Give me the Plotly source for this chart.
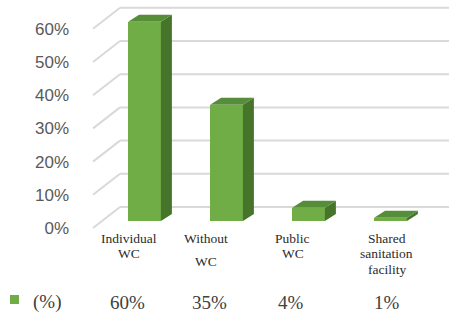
import plotly.graph_objects as go

# ---- data ----
categories = ["Individual<br>WC", "Without<br>WC", "Public<br>WC", "Shared<br>sanitation<br>facility"]
values = [60, 35, 4, 1]
value_labels = ["60%", "35%", "4%", "1%"]
series_name = "(%)"
y_ticks = [0, 10, 20, 30, 40, 50, 60]
y_tick_labels = ["0%", "10%", "20%", "30%", "40%", "50%", "60%"]

# ---- geometry (pixel layout of the figure) ----
W, H = 449, 314
L, T, B = 70, 0, 84
PW, PH = W - L, H - T - B
X0PX, XSTEP = 144.5, 82.0        # pixel of first category centre, pixels per category
Y0PX, YSTEP = 221.0, 3.32        # pixel of value 0 at bar front, pixels per unit

def px2x(px):
    return (px - X0PX) / XSTEP

def px2y(py):
    return (Y0PX - py) / YSTEP

def paper_x(px):
    return (px - L) / PW

def paper_y(py):
    return (T + PH - py) / PH

xr = [px2x(L), px2x(W)]
yr = [px2y(T + PH), px2y(T)]

# 3D offsets in data units
bar_w = 0.4
dx = 11 / XSTEP
dy = 7 / YSTEP
back_off = 14 / YSTEP     # back wall raised relative to bar front
front_off = -7 / YSTEP    # front of side wall lowered
wall_x_front = px2x(93)
wall_x_back = px2x(120)

FRONT = "#70ad47"
TOP = "#558d38"
SIDE = "#45742a"
GRID = "#d9d9d9"

fig = go.Figure()

xs = list(range(len(values)))
fig.add_trace(go.Bar(x=xs, y=values, width=bar_w, marker=dict(color=FRONT, line=dict(width=0)),
                     showlegend=False, hoverinfo="skip"))

for x, v in zip(xs, values):
    # side face
    fig.add_trace(go.Scatter(
        x=[x + bar_w / 2, x + bar_w / 2, x + bar_w / 2 + dx, x + bar_w / 2 + dx, x + bar_w / 2],
        y=[0, v, v + dy, dy, 0], fill="toself", fillcolor=SIDE, mode="lines",
        line=dict(width=0, color=SIDE), showlegend=False, hoverinfo="skip"))
    # top face
    fig.add_trace(go.Scatter(
        x=[x - bar_w / 2, x + bar_w / 2, x + bar_w / 2 + dx, x - bar_w / 2 + dx, x - bar_w / 2],
        y=[v, v, v + dy, v + dy, v], fill="toself", fillcolor=TOP, mode="lines",
        line=dict(width=0, color=TOP), showlegend=False, hoverinfo="skip"))

shapes = []
for t in y_ticks:
    shapes.append(dict(type="line", xref="x", yref="y", layer="below",
                       x0=wall_x_back, x1=xr[1], y0=t + back_off, y1=t + back_off,
                       line=dict(color=GRID, width=2)))
    shapes.append(dict(type="line", xref="x", yref="y", layer="below",
                       x0=wall_x_front, x1=wall_x_back, y0=t + front_off, y1=t + back_off,
                       line=dict(color=GRID, width=2)))

# legend square of the data table
shapes.append(dict(type="rect", xref="paper", yref="paper",
                   x0=paper_x(10), x1=paper_x(19), y0=paper_y(304), y1=paper_y(295),
                   fillcolor=FRONT, line=dict(width=0)))

annotations = []
SERIF = "Liberation Serif"
label_shift = [-16, -21, -16, -4]
for i, (cat, sh) in enumerate(zip(categories, label_shift)):
    lines = cat.split("<br>")
    for j, ln in enumerate(lines):
        py = 238 + 15.5 * j + (8 if (i == 1 and j > 0) else 0)
        annotations.append(dict(x=i, y=paper_y(py), xref="x", yref="paper", text=ln, showarrow=False,
                                xshift=sh, xanchor="center", yanchor="middle",
                                font=dict(family=SERIF, size=13.5, color="#2b2b2b")))

annotations.append(dict(x=paper_x(47), y=paper_y(302), xref="paper", yref="paper", text=series_name,
                        showarrow=False, xanchor="center", yanchor="middle",
                        font=dict(family=SERIF, size=19, color="#404040")))
table_x = [127, 209, 291, 387]
for lab, tx in zip(value_labels, table_x):
    annotations.append(dict(x=paper_x(tx), y=paper_y(302), xref="paper", yref="paper", text=lab,
                            showarrow=False, xanchor="center", yanchor="middle",
                            font=dict(family=SERIF, size=19, color="#404040")))

# tick-label axis: value 0 sits at pixel 228 (front of side wall)
y2r = [(228 - (T + PH)) / YSTEP, (228 - T) / YSTEP]

fig.update_layout(
    width=W, height=H, margin=dict(l=L, r=0, t=T, b=B),
    paper_bgcolor="white", plot_bgcolor="white",
    xaxis=dict(range=xr, visible=False, fixedrange=True),
    yaxis=dict(range=yr, visible=False, fixedrange=True),
    yaxis2=dict(range=y2r, overlaying="y", side="left", showgrid=False, zeroline=False,
                showline=False, tickvals=y_ticks, ticktext=y_tick_labels, ticks="",
                tickfont=dict(family="Liberation Sans", size=17, color="#595959")),
    shapes=shapes, annotations=annotations, bargap=0,
)
# dummy trace to activate yaxis2
fig.add_trace(go.Scatter(x=[None], y=[None], yaxis="y2", showlegend=False, hoverinfo="skip"))

fig.write_html("out.html", config={"displayModeBar": False},
               post_script="document.body.style.margin='0';document.body.style.overflow='hidden';")
